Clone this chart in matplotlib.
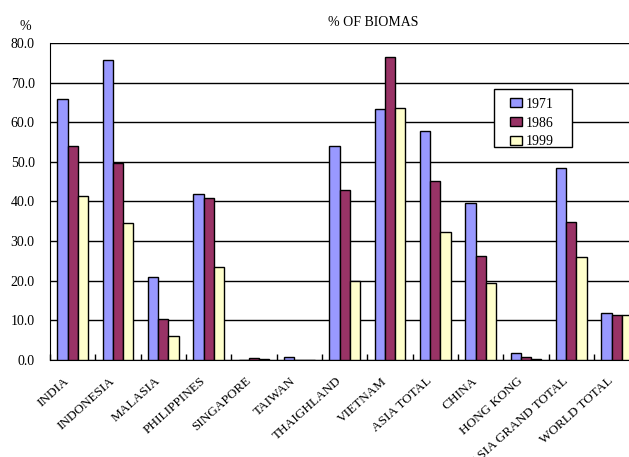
import matplotlib.pyplot as plt
import matplotlib.transforms as mtransforms
from matplotlib.patches import Rectangle
import numpy as np

plt.rcParams['font.family'] = ['Liberation Serif', 'DejaVu Serif']

countries = ['INDIA', 'INDONESIA', 'MALASIA', 'PHILIPPINES', 'SINGAPORE', 'TAIWAN',
             'THAIGHLAND', 'VIETNAM', 'ASIA TOTAL', 'CHINA', 'HONG KONG',
             'ASIA GRAND TOTAL', 'WORLD TOTAL']
years = ['1971', '1986', '1999']
pct_1971 = [65.8, 75.7, 21.0, 41.8, 0.0, 0.8, 54.0, 63.3, 57.7, 39.5, 1.7, 48.5, 11.9]
pct_1986 = [54.0, 49.8, 10.4, 41.0, 0.4, 0.0, 42.9, 76.5, 45.2, 26.2, 0.8, 34.8, 11.3]
pct_1999 = [41.4, 34.5, 6.1, 23.4, 0.2, 0.0, 20.0, 63.6, 32.3, 19.4, 0.3, 25.9, 11.3]

colors = ['#9999FF', '#993366', '#FFFFCC']

fig = plt.figure(figsize=(6.29, 4.57), dpi=100)
ax = fig.add_axes([0.0795, 0.2123, 0.937, 0.6937])

x = np.arange(len(countries))
w = 0.225
for i, (vals, c, lab) in enumerate(zip([pct_1971, pct_1986, pct_1999], colors, years)):
    ax.bar(x + (i - 1) * w, vals, width=w, color=c, edgecolor='black',
           linewidth=1.0, label=lab, zorder=3)

ax.set_xlim(-0.5, len(countries) - 0.5)
ax.set_ylim(0, 80)
ax.set_yticks(np.arange(0, 81, 10))
ax.set_yticklabels([f'{v:.1f}' for v in np.arange(0, 81, 10)], fontsize=10)
ax.yaxis.grid(True, color='black', linewidth=1.0, zorder=0)
ax.tick_params(axis='y', length=0, pad=11)

# category separators as inward ticks
ax.set_xticks(np.arange(len(countries) + 1) - 0.5)
ax.set_xticklabels([])
ax.tick_params(axis='x', direction='in', length=4, width=1)

# slanted category names, ending just left of each group centre
off = mtransforms.ScaledTranslation(-9 / 100, -15 / 100, fig.dpi_scale_trans)
for xi, name in zip(x, countries):
    ax.text(xi, 0, name, transform=ax.get_xaxis_transform() + off,
            rotation=42, rotation_mode='anchor', ha='right', va='top',
            fontsize=9.5, clip_on=False)

for s in ['top', 'right']:
    ax.spines[s].set_visible(False)

# legend: white box over the grid, entries laid out inside without a frame
ax.add_patch(Rectangle((0.754, 0.672), 0.131, 0.183, transform=ax.transAxes,
                       facecolor='white', edgecolor='black', linewidth=1.0,
                       zorder=4))
leg = ax.legend(loc='upper left', bbox_to_anchor=(0.781, 0.827), borderaxespad=0,
                borderpad=0, frameon=False, fontsize=10, handlelength=0.85,
                handleheight=0.6, handletextpad=0.25, labelspacing=0.42)
leg.set_zorder(5)

fig.text(0.593, 0.95, '% OF BIOMAS', ha='center', va='center', fontsize=10)
fig.text(0.04, 0.943, '%', ha='center', va='center', fontsize=10)

fig.savefig('out.png', dpi=100)
